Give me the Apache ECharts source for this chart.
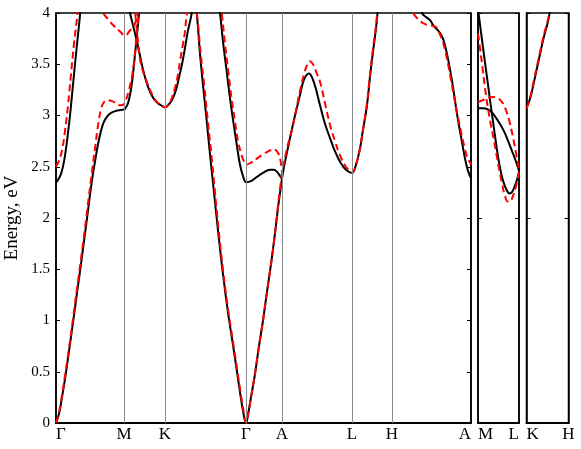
<!DOCTYPE html>
<html>
<head>
<meta charset="utf-8">
<script src="https://cdn.jsdelivr.net/npm/echarts@6/dist/echarts.min.js"></script>
<style>html,body{margin:0;padding:0;background:#fff}#c{width:581px;height:449px}</style>
</head>
<body>
<div id="c"></div>
<script>
// ---- k-path tick positions & labels ----
const kPos1 = [0, 68, 109, 190, 226, 296, 336, 415];
const kLbl1 = ['Γ', 'M', 'K', 'Γ', 'A', 'L', 'H', 'A'];
const kPos2 = [0, 41.3];
const kLbl2 = ['M', 'L'];
const kPos3 = [0, 42];
const kLbl3 = ['K', 'H'];
const yTicks1 = [0, 0.5, 1, 1.5, 2, 2.5, 3, 3.5, 4];

// ---- Panel 1: black (solid) bands [k, E] ----
const blk1a = [[0,0],[3,0.09],[6,0.25],[9,0.43],[12,0.63],[15,0.84],[18,1.05],[21,1.27],[24,1.48],[27,1.7],[30,1.92],[33,2.15],[36,2.37],[39,2.55],[42,2.72],[45,2.85],[48,2.94],[52,3.0],[56,3.03],[62,3.05],[68,3.06],[70,3.08],[72,3.12],[74,3.2],[76,3.32],[78,3.5],[80,3.69],[82,3.89],[84,4.1]];
const blk1b = [[72,4.1],[74,4.0],[77,3.88],[80,3.76],[83,3.63],[86,3.49],[90,3.34],[94,3.23],[98,3.16],[102,3.12],[105,3.1],[109,3.08],[112,3.1],[116,3.15],[120,3.25],[123,3.37],[126,3.5],[129,3.66],[132,3.83],[135,3.96],[138.5,4.15],[141,3.97],[144,3.6],[147.3,3.27],[151,2.92],[154,2.62],[158,2.25],[162,1.88],[167,1.45],[172,1.08],[177,0.76],[181,0.5],[184,0.3],[187,0.12],[190,0],[192,0.08],[195,0.25],[199,0.48],[203,0.75],[207,1.0],[211,1.28],[215,1.55],[219,1.85],[222,2.1],[224.5,2.28],[226,2.38],[228,2.5],[231,2.64],[234,2.78],[239,3.0],[244,3.2],[248,3.35],[253,3.41],[258,3.32],[264,3.1],[269,2.92],[274,2.78],[279,2.65],[284,2.55],[290,2.47],[296,2.44],[300,2.52],[304,2.68],[307,2.86],[311,3.1],[314,3.38],[317,3.62],[320,3.85],[322,4.05]];
const blk1c = [[0,2.35],[2,2.37],[5,2.43],[8,2.55],[11,2.75],[14,3.0],[17,3.3],[20,3.6],[23,3.88],[25,4.08]];
const blk1d = [[162,4.1],[164,4.0],[167,3.72],[170.7,3.43],[174,3.17],[177.3,2.94],[181,2.7],[184,2.52],[187,2.41],[190,2.35],[195,2.36],[200.7,2.4],[207,2.44],[214,2.47],[218,2.47],[221,2.45],[224,2.41],[226,2.38]];
const blk1e = [[364,4.1],[366,4.0],[370,3.96],[374,3.93],[378,3.87],[382,3.83],[385,3.79],[388,3.72],[391,3.6],[394,3.45],[397,3.28],[400,3.08],[403,2.9],[406,2.74],[409,2.58],[412,2.46],[415,2.39]];

// ---- Panel 1: red (dashed) bands ----
const red1a = [[0,0],[3,0.1],[6,0.27],[9,0.46],[12,0.66],[15,0.87],[18,1.09],[21,1.31],[24,1.53],[27,1.75],[30,1.98],[33,2.22],[36,2.45],[39,2.68],[42,2.9],[45,3.06],[48,3.13],[52,3.15],[56,3.14],[60,3.12],[64,3.1],[68,3.11],[70,3.15],[73,3.25],[76,3.38],[78,3.52],[80,3.72],[82,3.93],[84,4.12]];
const red1b = [[78,4.1],[79.5,3.97],[82,3.72],[84,3.55],[87,3.43],[90,3.35],[94,3.25],[98,3.17],[102,3.12],[105,3.1],[109,3.08],[112,3.1],[115,3.15],[119,3.27],[122,3.4],[124,3.53],[127,3.7],[129,3.82],[130.7,3.98],[136,4.25],[141,3.98],[144.5,3.62],[148.5,3.27],[152,2.93],[155.5,2.61],[158.5,2.3],[162.5,1.9],[167.5,1.45],[172.5,1.08],[177.5,0.76],[181.5,0.5],[184.5,0.3],[187.5,0.12],[190,0],[192,0.08],[195,0.25],[199,0.48],[203,0.75],[207,1.0],[211,1.28],[215,1.55],[219,1.85],[222,2.12],[224.5,2.32],[226,2.43],[228,2.54],[232,2.72],[236,2.86],[240,3.05],[244,3.24],[248,3.4],[251,3.49],[254,3.53],[257,3.5],[260,3.43],[264,3.33],[269,3.12],[274,2.91],[279,2.75],[284,2.61],[290,2.5],[294,2.46],[296,2.44],[300,2.52],[304,2.68],[307,2.86],[311,3.12],[314,3.4],[317,3.65],[320,3.88],[322,4.08]];
const red1c = [[0,2.5],[3,2.56],[6,2.66],[9,2.85],[12,3.1],[15,3.4],[18,3.7],[21,3.95],[22.5,4.1]];
const red1d = [[164,4.1],[165.7,4.0],[169,3.7],[172.3,3.43],[175.5,3.17],[179,2.94],[182,2.75],[185.7,2.61],[188,2.55],[190,2.52],[195,2.54],[200.7,2.58],[207,2.62],[214,2.66],[218,2.67],[222.3,2.63],[224.5,2.56],[226,2.45]];
const red1e = [[355,4.1],[357.3,4.0],[362,3.94],[367.3,3.9],[373,3.88],[379,3.87],[382.5,3.82],[385.7,3.75],[389,3.64],[392.3,3.49],[395.5,3.32],[399,3.13],[402.5,2.96],[405.7,2.81],[408.5,2.69],[410.7,2.61],[413,2.56],[415,2.52]];
const red1f = [[45,4.1],[47.3,4.0],[52,3.94],[57.3,3.88],[64,3.82],[69,3.78],[74,3.83],[79,3.9],[81.3,3.98],[83,4.1]];

// ---- Panel 2 (M-L) ----
const blk2a = [[0,4.04],[4,3.74],[8,3.45],[12,3.16],[16,2.88],[20,2.61],[23,2.45],[26,2.34],[29,2.27],[31.6,2.24],[34,2.25],[37,2.31],[39.5,2.38],[41.3,2.45]];
const blk2b = [[0,3.07],[5,3.07],[10,3.06],[14,3.03],[18,2.98],[22,2.92],[26,2.85],[30,2.76],[34,2.66],[38,2.56],[41.3,2.46]];
const red2a = [[0,3.8],[2,3.66],[5,3.43],[8,3.2],[12,2.96],[16,2.76],[19,2.6],[22,2.44],[24.5,2.32],[27,2.22],[30,2.16],[32,2.16],[35,2.21],[38,2.3],[41.3,2.45]];
const red2b = [[0,3.13],[5,3.15],[10,3.17],[15,3.18],[20,3.17],[25,3.12],[29,3.03],[32,2.93],[35,2.8],[38,2.65],[41.3,2.47]];

// ---- Panel 3 (K-H) ----
const blk3a = [[0,3.08],[2,3.12],[4,3.18],[6,3.26],[8,3.35],[10,3.44],[12,3.53],[14,3.62],[16,3.71],[18,3.79],[20,3.86],[22,3.94],[24,4.05]];
const red3a = [[0,3.07],[2,3.12],[4,3.19],[6,3.28],[8,3.37],[10,3.46],[12,3.55],[14,3.64],[16,3.73],[18,3.81],[20,3.88],[22,3.96],[24,4.07]];

const FONT = 'Liberation Serif';
const grids = [
  {left: 56, top: 13, width: 415, height: 410},
  {left: 478, top: 13, width: 41, height: 410},
  {left: 526.5, top: 13, width: 42, height: 410}
].map(g => Object.assign(g, {show: true, borderColor: '#000', borderWidth: 1.5, backgroundColor: 'transparent',
  containLabel: false, outerBoundsMode: 'none'}));

function xAx(i, max, pos, lbl) {
  return {
    type: 'value', gridIndex: i, min: 0, max: max, position: 'bottom',
    axisLine: {show: true, lineStyle: {color: '#000', width: 2}},
    axisTick: {show: true, inside: true, length: 4, customValues: pos, lineStyle: {color: '#000'}},
    axisLabel: {show: true, customValues: pos, margin: 3, fontFamily: FONT, fontSize: 17, color: '#000',
      alignMinLabel: 'left', alignMaxLabel: (i === 2 ? 'center' : 'right'),
      formatter: function (v) { const j = pos.findIndex(p => Math.abs(p - v) < 1e-6); return j >= 0 ? lbl[j] : ''; }},
    splitLine: {show: false}
  };
}
function yAx(i, pos, interval, labels) {
  const a = {
    type: 'value', gridIndex: i, min: 0, max: 4, interval: interval, position: pos,
    axisLine: {show: true, lineStyle: {color: '#000', width: 1.5}},
    axisTick: {show: true, inside: true, length: 4, lineStyle: {color: '#000'}},
    axisLabel: {show: labels, margin: 6, fontFamily: FONT, fontSize: 15, color: '#000'},
    splitLine: {show: false}
  };
  if (labels) {
    a.name = 'Energy, eV'; a.nameLocation = 'middle'; a.nameGap = 34; a.nameMoveOverlap = false;
    a.nameTextStyle = {fontFamily: FONT, fontSize: 19, color: '#000'};
  }
  return a;
}

const series = [];
function add(data, gi, yi, red) {
  series.push({
    type: 'line', data: data, xAxisIndex: gi, yAxisIndex: yi, showSymbol: false, smooth: 0.4,
    clip: true, silent: true, z: red ? 4 : 3,
    lineStyle: red ? {color: '#ff0000', width: 2, type: [7, 4]} : {color: '#000', width: 2}
  });
}
// vertical symmetry-point lines
series.push({
  type: 'line', data: [], xAxisIndex: 0, yAxisIndex: 0, silent: true, z: 1,
  markLine: {silent: true, symbol: 'none', label: {show: false},
    lineStyle: {color: '#8a8a8a', width: 1, type: 'solid'},
    data: kPos1.slice(1, -1).map(v => ({xAxis: v}))}
});
[blk1a, blk1b, blk1c, blk1d, blk1e].forEach(d => add(d, 0, 0, false));
[blk2a, blk2b].forEach(d => add(d, 1, 2, false));
[blk3a].forEach(d => add(d, 2, 4, false));
[red1a, red1b, red1c, red1d, red1e, red1f].forEach(d => add(d, 0, 0, true));
[red2a, red2b].forEach(d => add(d, 1, 2, true));
[red3a].forEach(d => add(d, 2, 4, true));

const chart = echarts.init(document.getElementById('c'), null, {renderer: 'canvas'});
chart.setOption({
  animation: false,
  backgroundColor: '#fff',
  grid: grids,
  xAxis: [xAx(0, 415, kPos1, kLbl1), xAx(1, 41.3, kPos2, kLbl2), xAx(2, 42, kPos3, kLbl3)],
  yAxis: [yAx(0, 'left', 0.5, true), yAx(0, 'right', 0.5, false),
          yAx(1, 'left', 2, false), yAx(1, 'right', 2, false),
          yAx(2, 'left', 2, false), yAx(2, 'right', 2, false)],
  series: series
});
</script>
</body>
</html>
